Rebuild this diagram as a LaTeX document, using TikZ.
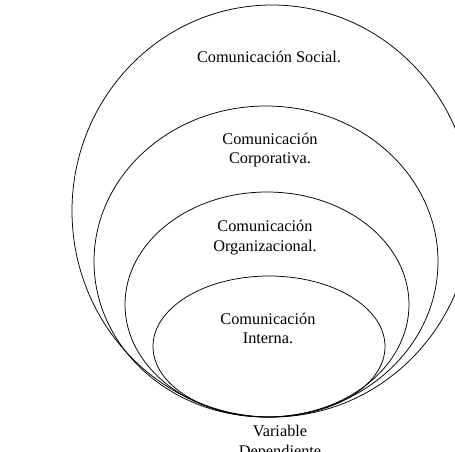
\documentclass[tikz,border=0pt]{standalone}
\usepackage{fontspec}
\setmainfont{Liberation Serif}
\begin{document}
\begin{tikzpicture}[x=1pt,y=-1pt,
  ring/.style={draw=black,line width=0.75pt},
  lbl/.style={align=center,font=\fontsize{16.3}{19.5}\selectfont,inner sep=0pt}]
\useasboundingbox (0,0) rectangle (455,451);
\begin{scope}
\clip (0,0) rectangle (455,451);
% nested ellipses, all tangent at the bottom
\draw[ring] (272,211) ellipse [x radius=200, y radius=206];
\draw[ring] (266,261.5) ellipse [x radius=172, y radius=155.5];
\draw[ring] (267,304.5) ellipse [x radius=142, y radius=112.5];
\draw[ring] (269,346.5) ellipse [x radius=116, y radius=70.5];
% labels
\node[lbl] (social) at (269,57) {Comunicación Social.};
\node[lbl] (corp) at (270,150) {Comunicación\\Corporativa.};
\node[lbl] (org) at (265,237.5) {Comunicación\\Organizacional.};
\node[lbl] (interna) at (268,328.5) {Comunicación\\Interna.};
\node[lbl] (var) at (280,442.5) {Variable\\Dependiente};
\end{scope}
\end{tikzpicture}
\end{document}
